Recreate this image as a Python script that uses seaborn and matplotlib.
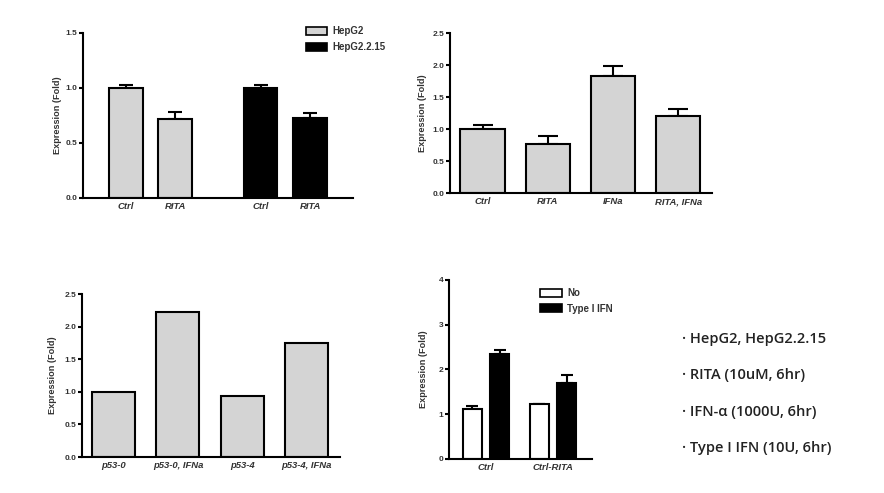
import numpy as np
import pandas as pd
import matplotlib
matplotlib.use("Agg")
import matplotlib.pyplot as plt
from matplotlib.patches import Patch
import seaborn as sns

# --- data ---
cells = ["HepG2", "HepG2.2.15"]
treat1 = ["Ctrl", "RITA"]
hepg2_mean = [1.00, 0.72]
hepg2_err = [0.03, 0.06]
hepg215_mean = [1.00, 0.73]
hepg215_err = [0.03, 0.04]

p2_labels = ["Ctrl", "RITA", "IFNa", "RITA, IFNa"]
p2_mean = [1.00, 0.76, 1.83, 1.21]
p2_err = [0.07, 0.13, 0.16, 0.11]

p3_labels = ["p53-0", "p53-0, IFNa", "p53-4", "p53-4, IFNa"]
p3_mean = [1.00, 2.22, 0.93, 1.75]

p4_groups = ["Ctrl", "Ctrl-RITA"]
p4_hue = ["No", "Type I IFN"]
no_mean = [1.12, 1.22]
no_err = [0.06, 0.01]
ifn_mean = [2.35, 1.70]
ifn_err = [0.08, 0.17]

notes = ["HepG2, HepG2.2.15", "RITA (10uM, 6hr)", "IFN-\u03b1 (1000U, 6hr)", "Type I IFN (10U, 6hr)"]

sns.set_theme(style="white")
plt.rcParams["font.family"] = ["Liberation Sans", "DejaVu Sans"]

GRAY = "#d4d4d4"
TXT = "#333333"
LW = 1.5

fig = plt.figure(figsize=(8.84, 4.93), dpi=100)


def style_axis(ax, ylim, yticks, yfmt):
    sns.despine(ax=ax)
    for s in ["left", "bottom"]:
        ax.spines[s].set_linewidth(LW)
        ax.spines[s].set_color("black")
    ax.set_ylim(*ylim)
    ax.set_yticks(yticks)
    ax.set_yticklabels([yfmt.format(v) for v in yticks], fontsize=6,
                       fontweight="bold", color=TXT)
    ax.tick_params(axis="y", length=3, width=LW, pad=1, left=True, color="black")
    ax.tick_params(axis="x", length=0, pad=3)
    for t in ax.get_xticklabels():
        t.set_fontsize(6.8)
        t.set_fontweight("bold")
        t.set_fontstyle("italic")
        t.set_color(TXT)
    ax.set_xlabel("")
    ax.set_ylabel("Expression (Fold)", fontsize=6.6, fontweight="bold", color=TXT)


def add_err(ax, bars, errs, cap):
    xs = [b.get_x() + b.get_width() / 2 for b in bars]
    ys = [b.get_height() for b in bars]
    ax.errorbar(xs, ys, yerr=[np.zeros(len(errs)), errs], fmt="none",
                ecolor="black", elinewidth=LW, capsize=cap, capthick=LW, zorder=1)


def patch_legend(ax, colors, names, anchor):
    handles = [Patch(facecolor=c, edgecolor="black", linewidth=1.2, label=n)
               for c, n in zip(colors, names)]
    ax.legend(handles=handles, loc="upper left", bbox_to_anchor=anchor, frameon=False,
              prop={"size": 7, "weight": "bold"}, handlelength=2.2, handleheight=0.9,
              handletextpad=0.6, labelspacing=0.6, labelcolor=TXT, borderaxespad=0)


# panel 1
df1 = pd.DataFrame({
    "cell": np.repeat(cells, 2),
    "treat": treat1 * 2,
    "value": hepg2_mean + hepg215_mean,
})
ax1 = fig.add_axes([0.0939, 0.5984, 0.3054, 0.3347])
sns.barplot(data=df1, x="cell", y="value", hue="treat", order=cells, hue_order=treat1,
            width=0.74, gap=0.32, edgecolor="black", linewidth=LW, legend=False, ax=ax1)
cell_colors = [GRAY, "black"]
errs1 = [hepg2_err, hepg215_err]
bars1 = [list(c) for c in ax1.containers]
centers, labels = [], []
for j, cont in enumerate(bars1):
    for i, bar in enumerate(cont):
        bar.set_facecolor(cell_colors[i])
        bar.set_zorder(2)
    add_err(ax1, cont, [errs1[i][j] for i in range(len(cells))], 4.7)
for i in range(len(cells)):
    for j, cont in enumerate(bars1):
        b = cont[i]
        centers.append(b.get_x() + b.get_width() / 2)
        labels.append(treat1[j])
ax1.set_xlim(-0.5, 1.5)
ax1.set_xticks(centers)
ax1.set_xticklabels(labels)
style_axis(ax1, (0, 1.5), [0.0, 0.5, 1.0, 1.5], "{:.1f}")
ax1.yaxis.set_label_coords(-0.078, 0.5)
patch_legend(ax1, cell_colors, cells, (0.81, 1.065))

# panel 2
df2 = pd.DataFrame({"label": p2_labels, "value": p2_mean})
ax2 = fig.add_axes([0.5090, 0.6085, 0.2964, 0.3245])
sns.barplot(data=df2, x="label", y="value", color=GRAY, width=0.68, saturation=1,
            edgecolor="black", linewidth=LW, ax=ax2)
bars2 = list(ax2.containers[0])
for b in bars2:
    b.set_zorder(2)
add_err(ax2, bars2, p2_err, 7.5)
ax2.set_xlim(-0.5, 3.52)
style_axis(ax2, (0, 2.5), [0.0, 0.5, 1.0, 1.5, 2.0, 2.5], "{:.1f}")
ax2.yaxis.set_label_coords(-0.088, 0.5)

# panel 3
df3 = pd.DataFrame({"label": p3_labels, "value": p3_mean})
ax3 = fig.add_axes([0.0928, 0.0730, 0.2919, 0.3306])
sns.barplot(data=df3, x="label", y="value", color=GRAY, width=0.67, saturation=1,
            edgecolor="black", linewidth=LW, ax=ax3)
ax3.set_xlim(-0.49, 3.52)
style_axis(ax3, (0, 2.5), [0.0, 0.5, 1.0, 1.5, 2.0, 2.5], "{:.1f}")
ax3.yaxis.set_label_coords(-0.097, 0.5)

# panel 4
df4 = pd.DataFrame({
    "group": p4_groups * 2,
    "hue": np.repeat(p4_hue, 2),
    "value": no_mean + ifn_mean,
})
ax4 = fig.add_axes([0.5079, 0.0690, 0.1618, 0.3631])
sns.barplot(data=df4, x="group", y="value", hue="hue", order=p4_groups, hue_order=p4_hue,
            palette=["white", "black"], saturation=1, width=0.82, gap=0.31,
            edgecolor="black", linewidth=LW, legend=False, ax=ax4)
bars4 = [list(c) for c in ax4.containers]
for cont, errs in zip(bars4, [no_err, ifn_err]):
    for b in cont:
        b.set_zorder(2)
    add_err(ax4, cont, errs, 4.5)
ax4.set_xlim(-0.55, 1.58)
style_axis(ax4, (0, 4), [0, 1, 2, 3, 4], "{:d}")
ax4.yaxis.set_label_coords(-0.147, 0.5)
patch_legend(ax4, ["white", "black"], p4_hue, (0.61, 0.977))

# notes on the right
for k, s in enumerate(notes):
    fig.text(682 / 884, 1 - (339 + 36.3 * k) / 493, "\u00b7 " + s, fontsize=10.5,
             fontweight="semibold", color="#222222", va="center", ha="left",
             family=["Open Sans", "DejaVu Sans"])

fig.savefig("out.png", dpi=100)
